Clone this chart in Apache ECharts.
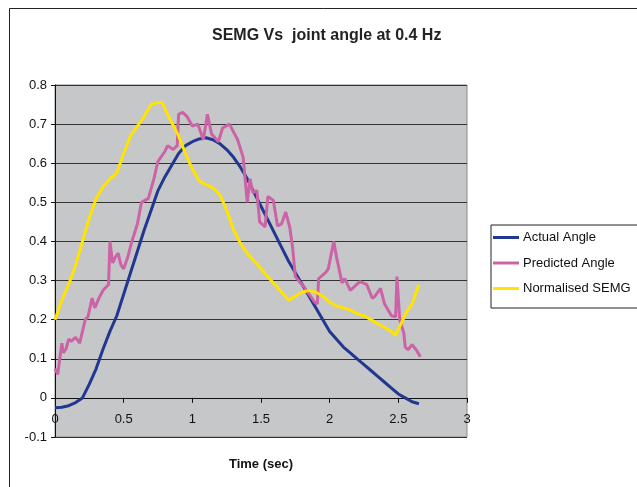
<!DOCTYPE html>
<html>
<head>
<meta charset="utf-8">
<title>SEMG Vs joint angle at 0.4 Hz</title>
<script src="https://cdn.jsdelivr.net/npm/echarts@6/dist/echarts.min.js"></script>
<style>
  html, body { margin: 0; padding: 0; background: #fff; }
  #chart { width: 637px; height: 487px; }
</style>
</head>
<body>
<div id="chart"></div>
<script>
// values
const actualTime = [0, 0.05, 0.1, 0.15, 0.2, 0.25, 0.3, 0.35, 0.4, 0.45, 0.5, 0.55, 0.6, 0.65, 0.7, 0.75, 0.8, 0.85, 0.9, 0.95, 1.0, 1.05, 1.1, 1.15, 1.2, 1.25, 1.3, 1.35, 1.4, 1.45, 1.5, 1.55, 1.6, 1.65, 1.7, 1.75, 1.8, 1.85, 1.9, 1.95, 2.0, 2.05, 2.1, 2.15, 2.2, 2.25, 2.3, 2.35, 2.4, 2.45, 2.5, 2.55, 2.6, 2.65]
const actualAngle = [-0.025, -0.024, -0.02, -0.012, 0.0, 0.035, 0.075, 0.125, 0.17, 0.21, 0.265, 0.32, 0.375, 0.43, 0.48, 0.53, 0.565, 0.595, 0.625, 0.645, 0.655, 0.662, 0.665, 0.66, 0.65, 0.635, 0.615, 0.59, 0.56, 0.525, 0.49, 0.455, 0.42, 0.385, 0.35, 0.32, 0.29, 0.26, 0.23, 0.2, 0.17, 0.15, 0.13, 0.115, 0.1, 0.085, 0.07, 0.055, 0.04, 0.025, 0.01, 0.0, -0.01, -0.015]

const predictedTime = [0, 0.02, 0.03, 0.05, 0.06, 0.08, 0.1, 0.12, 0.15, 0.18, 0.2, 0.22, 0.24, 0.27, 0.29, 0.32, 0.35, 0.39, 0.4, 0.42, 0.44, 0.46, 0.48, 0.5, 0.53, 0.56, 0.6, 0.63, 0.68, 0.72, 0.75, 0.8, 0.82, 0.86, 0.89, 0.9, 0.93, 0.96, 1.0, 1.04, 1.08, 1.11, 1.14, 1.19, 1.22, 1.27, 1.33, 1.37, 1.4, 1.42, 1.44, 1.47, 1.49, 1.53, 1.55, 1.59, 1.62, 1.65, 1.68, 1.71, 1.73, 1.75, 1.81, 1.86, 1.89, 1.91, 1.92, 1.97, 1.99, 2.03, 2.05, 2.09, 2.11, 2.15, 2.22, 2.27, 2.31, 2.33, 2.37, 2.4, 2.45, 2.48, 2.49, 2.51, 2.54, 2.55, 2.57, 2.6, 2.63, 2.66]
const predictedAngle = [0.075, 0.06, 0.065, 0.14, 0.115, 0.125, 0.15, 0.145, 0.155, 0.14, 0.17, 0.2, 0.207, 0.255, 0.23, 0.255, 0.275, 0.29, 0.4, 0.345, 0.36, 0.37, 0.34, 0.33, 0.36, 0.4, 0.445, 0.5, 0.51, 0.56, 0.605, 0.63, 0.645, 0.635, 0.645, 0.725, 0.73, 0.72, 0.695, 0.7, 0.66, 0.725, 0.675, 0.655, 0.69, 0.7, 0.66, 0.615, 0.5, 0.56, 0.525, 0.53, 0.45, 0.437, 0.515, 0.505, 0.44, 0.445, 0.475, 0.435, 0.385, 0.31, 0.285, 0.26, 0.245, 0.24, 0.305, 0.32, 0.33, 0.4, 0.36, 0.294, 0.305, 0.275, 0.297, 0.29, 0.255, 0.26, 0.28, 0.24, 0.21, 0.207, 0.31, 0.2, 0.166, 0.13, 0.123, 0.136, 0.123, 0.105]

const semgTime = [0, 0.05, 0.1, 0.15, 0.2, 0.25, 0.3, 0.35, 0.4, 0.45, 0.5, 0.55, 0.6, 0.65, 0.7, 0.75, 0.78, 0.82, 0.87, 0.9, 0.95, 1.0, 1.05, 1.1, 1.15, 1.2, 1.25, 1.3, 1.35, 1.4, 1.45, 1.5, 1.55, 1.6, 1.65, 1.7, 1.75, 1.8, 1.85, 1.9, 1.95, 2.0, 2.05, 2.1, 2.15, 2.2, 2.25, 2.3, 2.35, 2.4, 2.45, 2.48, 2.52, 2.56, 2.6, 2.65]
const semgValue = [0.2, 0.25, 0.29, 0.34, 0.4, 0.46, 0.51, 0.54, 0.56, 0.575, 0.625, 0.67, 0.695, 0.72, 0.75, 0.755, 0.755, 0.725, 0.69, 0.67, 0.625, 0.585, 0.555, 0.545, 0.537, 0.52, 0.48, 0.43, 0.395, 0.37, 0.35, 0.33, 0.31, 0.29, 0.27, 0.25, 0.26, 0.27, 0.275, 0.27, 0.26, 0.245, 0.235, 0.23, 0.225, 0.215, 0.21, 0.2, 0.19, 0.18, 0.17, 0.16, 0.19, 0.22, 0.24, 0.29]

const seriesNames = ['Actual Angle', 'Predicted Angle', 'Normalised SEMG']
const seriesColors = ['#22378f', '#cc63a6', '#ffe400']

const fontFamily = 'Liberation Sans, Arial, sans-serif'

function pairs(xs, ys) {
  return xs.map((x, i) => [x, ys[i]])
}

const chart = echarts.init(document.getElementById('chart'), null, { renderer: 'canvas' })

chart.setOption({
  backgroundColor: '#fff',
  animation: false,
  textStyle: { fontFamily: fontFamily },
  title: {
    text: 'SEMG Vs  joint angle at 0.4 Hz',
    left: 212,
    top: 28,
    padding: 0,
    textStyle: { fontSize: 16, fontWeight: 'bold', color: '#222', fontFamily: fontFamily }
  },
  graphic: [{
    type: 'rect',
    shape: { x: 9.5, y: 8.5, width: 700, height: 600 },
    style: { fill: 'none', stroke: '#222', lineWidth: 1 },
    silent: true,
    z: -1
  }],
  legend: {
    orient: 'vertical',
    left: 491,
    top: 225,
    data: seriesNames.map(n => ({ name: n, icon: 'rect' })),
    itemWidth: 26,
    itemHeight: 3,
    itemGap: 12.5,
    padding: [6, 10, 13, 2],
    borderColor: '#222',
    borderWidth: 1,
    textStyle: { fontSize: 13, color: '#111', padding: [0, 0, 0, -1] }
  },
  grid: {
    left: 55,
    top: 85,
    right: 170,
    bottom: 50,
    outerBoundsMode: 'none',
    containLabel: false,
    show: true,
    backgroundColor: '#c6c7c9',
    borderColor: '#8a8a8a',
    borderWidth: 1
  },
  xAxis: {
    type: 'value',
    min: 0,
    max: 3,
    interval: 0.5,
    name: 'Time (sec)',
    nameLocation: 'middle',
    nameGap: 21,
    nameTextStyle: { fontSize: 13, fontWeight: 'bold', color: '#111' },
    axisLine: { onZero: true, lineStyle: { color: '#111', width: 1 } },
    axisTick: { show: true, length: 5, lineStyle: { color: '#111' } },
    // labels sit under the zero line, not under the plot bottom
    axisLabel: { fontSize: 13, color: '#111', margin: -24 },
    splitLine: { show: false }
  },
  yAxis: {
    type: 'value',
    min: -0.1,
    max: 0.8,
    interval: 0.1,
    axisLine: { show: true, lineStyle: { color: '#111', width: 1 } },
    axisTick: { show: true, length: 4, lineStyle: { color: '#111' } },
    axisLabel: { fontSize: 13, color: '#111', margin: 8 },
    splitLine: { show: true, lineStyle: { color: '#333', width: 1 } }
  },
  series: [{
    name: seriesNames[0],
    type: 'line',
    data: pairs(actualTime, actualAngle),
    showSymbol: false,
    lineStyle: { color: seriesColors[0], width: 3 },
    itemStyle: { color: seriesColors[0] }
  }, {
    name: seriesNames[1],
    type: 'line',
    data: pairs(predictedTime, predictedAngle),
    showSymbol: false,
    lineStyle: { color: seriesColors[1], width: 3 },
    itemStyle: { color: seriesColors[1] }
  }, {
    name: seriesNames[2],
    type: 'line',
    data: pairs(semgTime, semgValue),
    showSymbol: false,
    lineStyle: { color: seriesColors[2], width: 3 },
    itemStyle: { color: seriesColors[2] }
  }]
})
</script>
</body>
</html>
